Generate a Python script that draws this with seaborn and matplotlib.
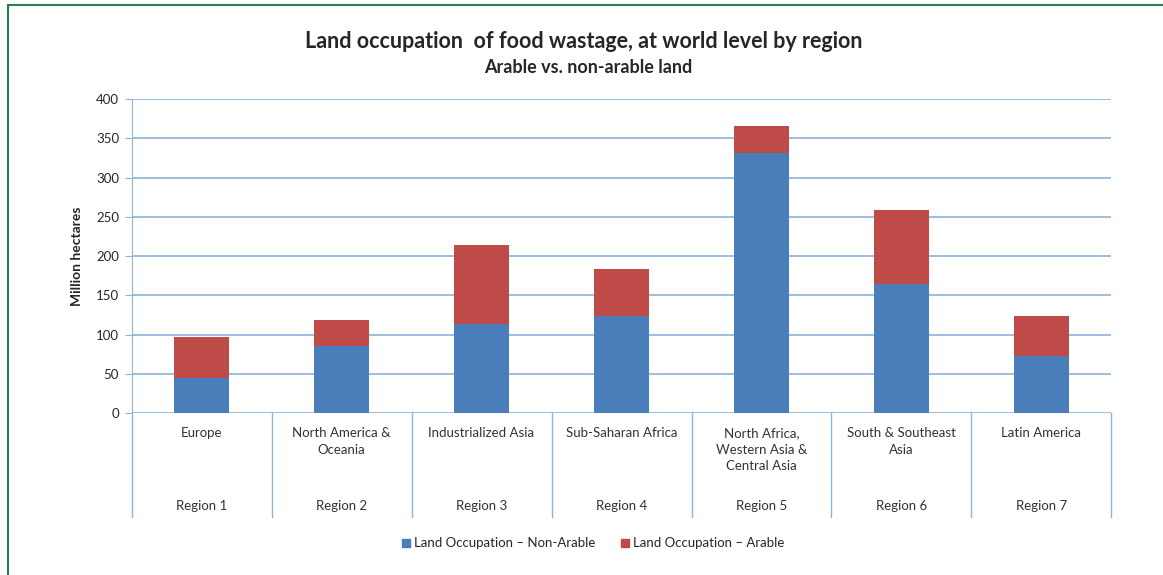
import pandas as pd
import matplotlib.pyplot as plt
import seaborn as sns
from matplotlib.patches import Patch, Rectangle

# values (million hectares)
regions = ['Europe', 'North America &\nOceania', 'Industrialized Asia', 'Sub-Saharan Africa',
           'North Africa,\nWestern Asia &\nCentral Asia', 'South & Southeast\nAsia', 'Latin America']
region_ids = ['Region 1', 'Region 2', 'Region 3', 'Region 4', 'Region 5', 'Region 6', 'Region 7']
non_arable = [45, 85, 114, 124, 331, 164, 73]
arable = [52, 34, 100, 60, 35, 95, 51]

df = pd.DataFrame({'region': region_ids, 'non_arable': non_arable, 'arable': arable})
df['total'] = df['non_arable'] + df['arable']

sns.set_style('white')
plt.rcParams['font.family'] = ['Lato', 'DejaVu Sans']

blue = '#4a7ebb'
red = '#be4b48'
grid_c = '#8db3d9'

fig = plt.figure(figsize=(11.63, 5.75), dpi=100)
ax = fig.add_axes([0.1131, 0.2817, 0.8426, 0.5461])

# stacked: draw totals in red, then non-arable in blue on top
sns.barplot(data=df, x='region', y='total', color=red, width=0.39, saturation=1,
            linewidth=0, ax=ax)
sns.barplot(data=df, x='region', y='non_arable', color=blue, width=0.39, saturation=1,
            linewidth=0, ax=ax)

ax.set_ylim(0, 400)
ax.set_xlim(-0.5, 6.5)
ax.set_yticks(range(0, 401, 50))
ax.yaxis.grid(True, color=grid_c, linewidth=1.2)
ax.set_axisbelow(True)
for s in ['top', 'right', 'bottom']:
    ax.spines[s].set_visible(False)
ax.spines['left'].set_color(grid_c)
ax.tick_params(axis='y', length=5, color=grid_c, labelsize=9.5, pad=4, left=True)
ax.set_xticks([])
ax.set_xlabel('')
ax.set_ylabel('Million hectares', fontsize=10, fontweight='bold', labelpad=9)

# category labels below the axis, with separators like the original
trans = ax.get_xaxis_transform()
for i, (name, rid) in enumerate(zip(regions, region_ids)):
    ax.text(i, -0.045, name, transform=trans, ha='center', va='top', fontsize=9.5,
            linespacing=1.45, color='#333333')
    ax.text(i, -0.295, rid, transform=trans, ha='center', va='center', fontsize=9.5,
            color='#333333')
for xs in [i - 0.5 for i in range(8)]:
    ax.plot([xs, xs], [0, -0.33], transform=trans, color=grid_c, lw=1, clip_on=False)

fig.text(0.502, 0.927, 'Land occupation  of food wastage, at world level by region',
         ha='center', va='center', fontsize=15.5, fontweight='bold')
fig.text(0.506, 0.882, 'Arable vs. non-arable land', ha='center', va='center',
         fontsize=13, fontweight='bold')

handles = [Patch(color=blue, label='Land Occupation \u2013 Non-Arable'),
           Patch(color=red, label='Land Occupation \u2013 Arable')]
fig.legend(handles=handles, loc='center', bbox_to_anchor=(0.51, 0.055), ncol=2,
           frameon=False, fontsize=9.5, handlelength=0.6, handleheight=0.6,
           handletextpad=0.3, columnspacing=2.0)

# green frame around the figure
fig.patches.append(Rectangle((8 / 1163, -0.02), 1.05, 1.012,
                             transform=fig.transFigure, fill=False,
                             edgecolor='#2e7d4f', linewidth=1.5))

fig.savefig('out.png', dpi=100)
